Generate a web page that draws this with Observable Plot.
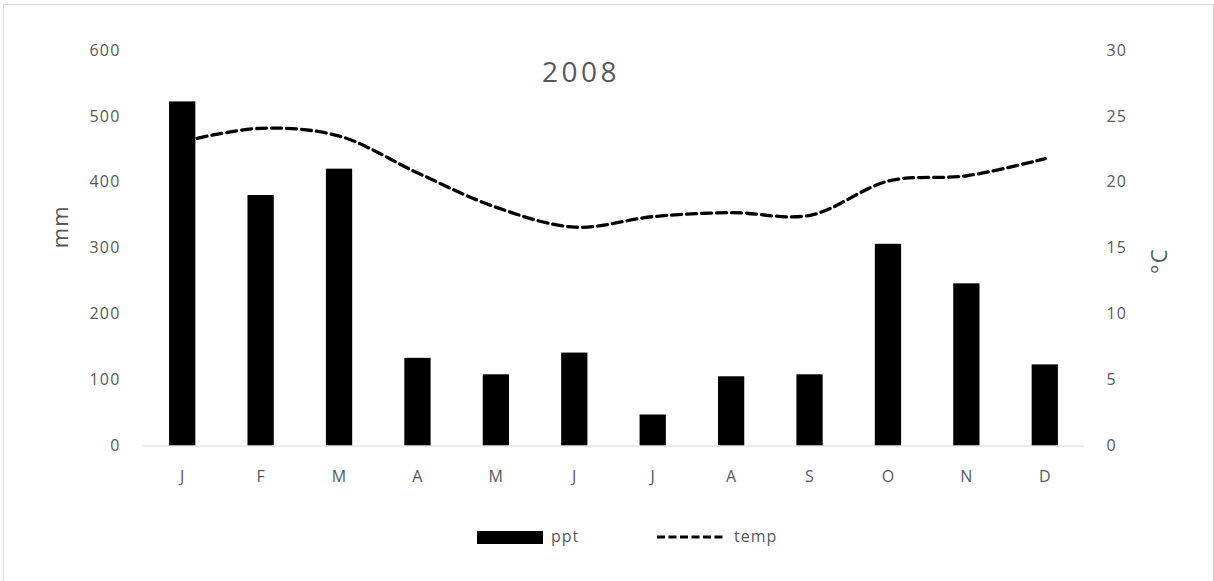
<!DOCTYPE html>
<html>
<head>
<meta charset="utf-8">
<script src="https://cdn.jsdelivr.net/npm/d3@7"></script>
<script src="https://cdn.jsdelivr.net/npm/@observablehq/plot@0.6"></script>
<style>
  html, body { margin: 0; padding: 0; background: #fff; }
  body { width: 1214px; height: 581px; overflow: hidden; position: relative; font-family: "Open Sans", sans-serif; }
  #frame { position: absolute; left: 3px; top: 4px; width: 1209px; height: 620px; border: 1px solid #d9d9d9; pointer-events: none; }
  #chart { position: absolute; left: 0; top: 0; }
  #chart svg text { letter-spacing: 1.2px; }
  #chart svg g.title text { letter-spacing: 3.5px; }
  #legend { position: absolute; left: 0; top: 500px; width: 1214px; height: 75px; }
</style>
</head>
<body>
<div id="chart"></div>
<div id="legend">
  <svg width="1214" height="75" style="position:absolute;left:0;top:0">
    <rect x="477" y="31" width="66" height="13" fill="#000"></rect>
    <line x1="657" x2="725" y1="37" y2="37" stroke="#000" stroke-width="3" stroke-dasharray="8,3.5"></line>
    <text x="551" y="42" font-family="Open Sans" font-size="16" letter-spacing="1" fill="#595959">ppt</text>
    <text x="734" y="42" font-family="Open Sans" font-size="16" letter-spacing="1" fill="#595959">temp</text>
  </svg>
</div>
<div id="frame"></div>
<script>
const months = ["J", "F", "M", "A", "M", "J", "J", "A", "S", "O", "N", "D"];
const ppt = [522, 380, 420, 133, 108, 141, 47, 105, 108, 306, 246, 123];
const temp = [23.1, 24.1, 23.5, 20.7, 18.1, 16.6, 17.4, 17.7, 17.5, 20.1, 20.5, 21.8];
const mmTicks = [0, 100, 200, 300, 400, 500, 600];
const title = "2008";
const leftLabel = "mm";
const rightLabel = "°C";

const factor = 600 / 30; // °C -> mm scale (right axis 0–30 maps to left 0–600)
const data = months.map((m, i) => ({ i, m, ppt: ppt[i], temp: temp[i] }));
const textColor = "#595959";

const chart = Plot.plot({
  width: 1214,
  height: 500,
  marginTop: 50,
  marginBottom: 54.5,
  marginLeft: 143,
  marginRight: 130,
  style: { fontFamily: "Open Sans", fontSize: "16px", color: textColor, background: "transparent" },
  x: { type: "band", domain: d3.range(12), paddingInner: 0.665, paddingOuter: 0.3325, round: false, axis: null },
  y: { domain: [0, 600], axis: null },
  marks: [
    Plot.axisX({ tickSize: 0, tickPadding: 25, tickFormat: i => months[i], fill: textColor, label: null }),
    Plot.axisY({ anchor: "left", ticks: mmTicks, tickSize: 0, tickPadding: 23, fill: textColor, label: null }),
    Plot.axisY({ anchor: "right", ticks: mmTicks, tickSize: 0, tickPadding: 22, tickFormat: d => d / factor, fill: textColor, label: null, textAnchor: "start" }),
    Plot.barY(data, { x: "i", y: "ppt", fill: "#000" }),
    Plot.ruleY([0], { stroke: "#d9d9d9", strokeWidth: 1.2 }),
    Plot.line(data, { x: "i", y: d => d.temp * factor, stroke: "#000", strokeWidth: 3.3, strokeDasharray: "10,5", curve: "catmull-rom" }),
    Plot.text([title], { frameAnchor: "top", dx: -33, dy: 23, lineAnchor: "middle", fontSize: 28, fill: textColor, fontFamily: "Open Sans", className: "title" }),
    Plot.text([leftLabel], { frameAnchor: "left", dx: -83, dy: 0, rotate: -90, fontSize: 22, fill: textColor, lineAnchor: "middle" }),
    Plot.text([rightLabel], { frameAnchor: "right", dx: 75, dy: 0, rotate: -90, fontSize: 22, fill: textColor, lineAnchor: "middle" })
  ]
});
chart.querySelectorAll("text").forEach(t => { if (t.textContent === title) t.parentNode.classList.add("title"); });
document.getElementById("chart").appendChild(chart);
</script>
</body>
</html>
